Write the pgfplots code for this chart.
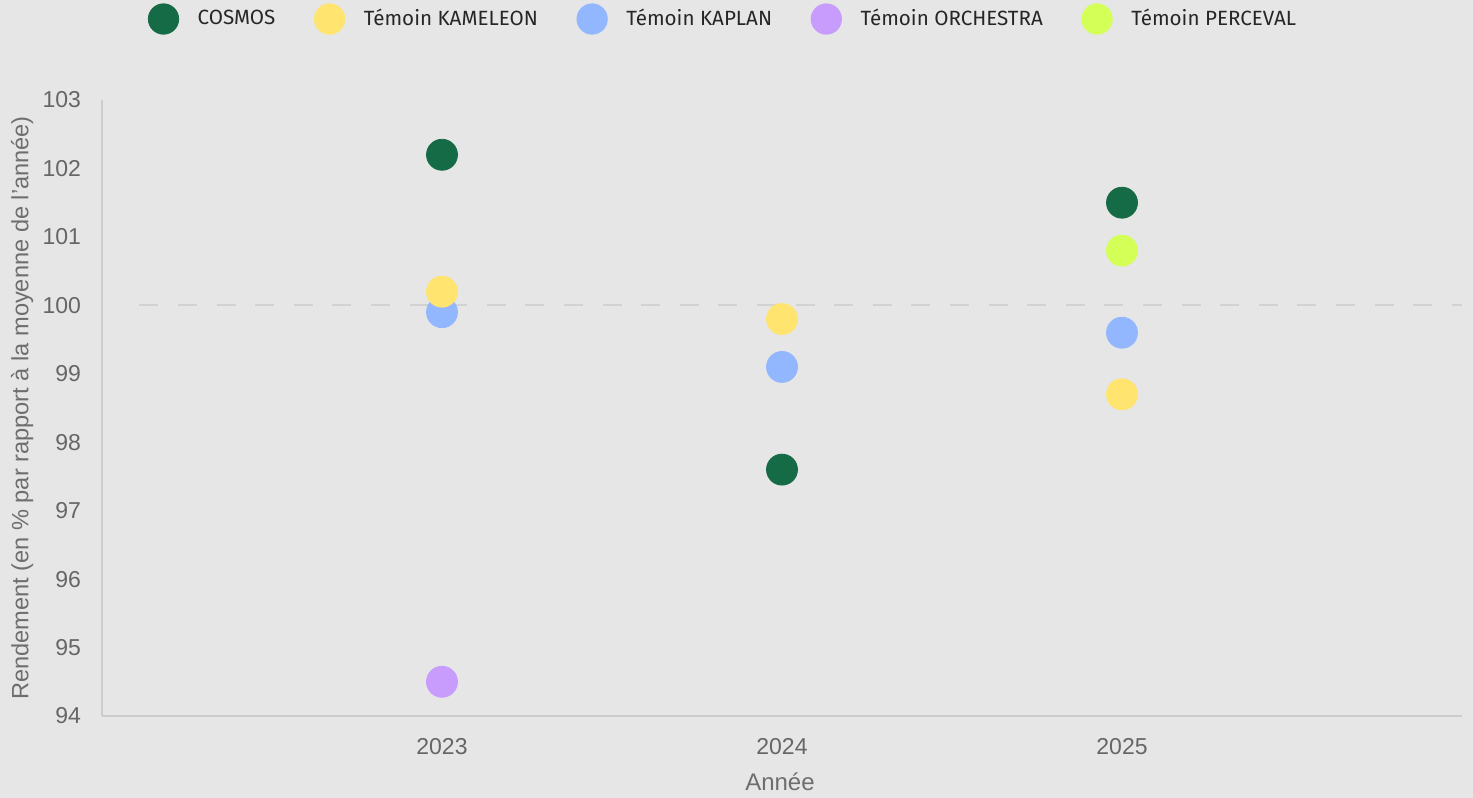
\documentclass[border=0pt]{standalone}
\usepackage{fontspec}
\setmainfont{Liberation Sans}
\newfontfamily\legfont{Fira Sans}
\usepackage{pgfplots}
\pgfplotsset{compat=1.18}
\definecolor{bg}{HTML}{E6E6E6}
\definecolor{cosmos}{HTML}{166B47}
\definecolor{kameleon}{HTML}{FFE46F}
\definecolor{kaplan}{HTML}{93B7FF}
\definecolor{orchestra}{HTML}{C79CFD}
\definecolor{perceval}{HTML}{D3FF57}
\definecolor{tickgray}{HTML}{666666}
\definecolor{labgray}{HTML}{6E6E6E}
\definecolor{axgray}{HTML}{CCCCCC}
\definecolor{dashgray}{HTML}{D2D2D2}
\begin{document}
\begin{tikzpicture}
\fill[bg] (0,0) rectangle (736.5pt,399pt);
\useasboundingbox (0,0) rectangle (736.5pt,399pt);
\begin{axis}[
  at={(51pt,41pt)}, anchor=south west,
  scale only axis, width=680pt, height=308pt,
  xmin=2022, xmax=2026, ymin=94, ymax=103,
  xtick={2023,2024,2025}, xticklabels={2023,2024,2025},
  ytick={94,95,...,103},
  axis lines=left, axis line style={-, draw=axgray, line width=0.6pt},
  major tick length=0pt,
  /pgf/number format/assume math mode=true,
  tick label style={font=\fontsize{11.5}{13}\selectfont, text=tickgray},
  yticklabel style={anchor=east, xshift=-7pt},
  xticklabel style={anchor=north, yshift=-7.5pt},
  xlabel={Année}, ylabel={Rendement (en \% par rapport à la moyenne de l'année)},
  every axis x label/.style={at={(axis description cs:0.4985,-0.107)}, anchor=center, font=\fontsize{12}{14}\selectfont, text=labgray},
  every axis y label/.style={at={(axis description cs:-0.0588,0.5)}, rotate=90, anchor=center, font=\fontsize{11.8}{14}\selectfont, text=labgray},
  legend columns=5,
  legend style={at={(axis description cs:0.4575,1.1315)}, anchor=center, draw=none, fill=none,
    font=\legfont\fontsize{10.3}{12}\selectfont, text=black!85,
    /tikz/every odd column/.append style={column sep=7.5pt},
    /tikz/every even column/.append style={column sep=17.5pt}},
  legend image code/.code={\draw[#1] plot coordinates {(7.5pt,0pt)};},
  clip=false,
]
\addlegendimage{only marks, mark=*, mark size=7.6pt, color=cosmos, mark options={draw=none}}
\addlegendentry{COSMOS}
\addlegendimage{only marks, mark=*, mark size=7.6pt, color=kameleon, mark options={draw=none}}
\addlegendentry{Témoin KAMELEON}
\addlegendimage{only marks, mark=*, mark size=7.6pt, color=kaplan, mark options={draw=none}}
\addlegendentry{Témoin KAPLAN}
\addlegendimage{only marks, mark=*, mark size=7.6pt, color=orchestra, mark options={draw=none}}
\addlegendentry{Témoin ORCHESTRA}
\addlegendimage{only marks, mark=*, mark size=7.6pt, color=perceval, mark options={draw=none}}
\addlegendentry{Témoin PERCEVAL}

\addplot[forget plot, draw=dashgray, line width=1pt, dash pattern=on 9.5pt off 9.8pt] coordinates {(2022.11,100) (2026,100)};

\addplot[forget plot, only marks, mark=*, mark size=7.75pt, color=orchestra, mark options={draw=none}] coordinates {(2023,94.5)};
\addplot[forget plot, only marks, mark=*, mark size=7.75pt, color=kaplan, mark options={draw=none}] coordinates {(2023,99.9) (2024,99.1) (2025,99.6)};
\addplot[forget plot, only marks, mark=*, mark size=7.75pt, color=kameleon, mark options={draw=none}] coordinates {(2023,100.2) (2024,99.8) (2025,98.7)};
\addplot[forget plot, only marks, mark=*, mark size=7.75pt, color=perceval, mark options={draw=none}] coordinates {(2025,100.8)};
\addplot[forget plot, only marks, mark=*, mark size=7.75pt, color=cosmos, mark options={draw=none}] coordinates {(2023,102.2) (2024,97.6) (2025,101.5)};
\end{axis}
\end{tikzpicture}
\end{document}
